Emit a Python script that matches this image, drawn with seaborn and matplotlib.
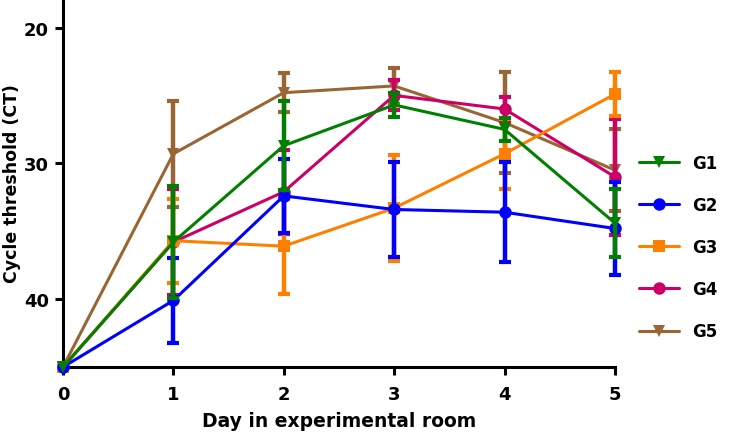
"""Cycle threshold by day in the experimental room, groups G1-G5."""

import matplotlib

matplotlib.use("Agg")
import matplotlib.pyplot as plt
import pandas as pd
import seaborn as sns

days = [0, 1, 2, 3, 4, 5]
groups = ["G1", "G2", "G3", "G4", "G5"]

# mean CT and SD per day
g1_mean = [45, 35.8, 28.7, 25.7, 27.5, 34.4]
g1_sd = [0, 4.1, 3.3, 0.9, 0.85, 2.5]
g2_mean = [45, 40.1, 32.4, 33.4, 33.6, 34.8]
g2_sd = [0, 3.15, 2.7, 3.5, 3.7, 3.4]
g3_mean = [45, 35.7, 36.1, 33.3, 29.3, 24.9]
g3_sd = [0, 3.1, 3.5, 3.9, 2.6, 1.6]
g4_mean = [45, 35.8, 32.1, 25.0, 26.0, 31.0]
g4_sd = [0, 3.9, 3.1, 1.1, 0.9, 4.3]
g5_mean = [45, 29.3, 24.8, 24.3, 27.0, 30.5]
g5_sd = [0, 3.9, 1.45, 1.3, 3.7, 3.0]

means = {"G1": g1_mean, "G2": g2_mean, "G3": g3_mean, "G4": g4_mean, "G5": g5_mean}
sds = {"G1": g1_sd, "G2": g2_sd, "G3": g3_sd, "G4": g4_sd, "G5": g5_sd}

colors = {"G1": "#008000", "G2": "#0000ff", "G3": "#ff8000",
          "G4": "#cc0066", "G5": "#996633"}
markers = {"G1": "v", "G2": "o", "G3": "s", "G4": "o", "G5": "v"}
# G1 on top, G5 at the bottom
zorders = {"G1": 10, "G2": 9, "G3": 8, "G4": 7, "G5": 6}

df = pd.DataFrame(
    [(g, d, m) for g in groups for d, m in zip(days, means[g])],
    columns=["group", "day", "ct"],
)

sns.set_style("ticks")
plt.rcParams["font.family"] = ["DejaVu Sans"]
plt.rcParams["font.weight"] = "bold"
plt.rcParams["text.color"] = "black"
plt.rcParams["axes.labelcolor"] = "black"

fig = plt.figure(figsize=(7.3, 4.39), dpi=100)
ax = fig.add_axes([0.0863, 0.1617, 0.756, 0.8383])

sns.lineplot(
    data=df, x="day", y="ct", hue="group", style="group",
    hue_order=groups, style_order=groups, palette=colors,
    markers=markers, dashes=False, linewidth=2.2, markersize=9,
    markeredgewidth=0, ax=ax, legend=True,
)

for line, g in zip(ax.lines[: len(groups)], groups):
    line.set_zorder(zorders[g])
    line.set_clip_on(False)

for g in groups:
    eb = ax.errorbar(
        days[1:], means[g][1:], yerr=sds[g][1:], fmt="none",
        ecolor=colors[g], elinewidth=3.2, capsize=4, capthick=3,
        zorder=zorders[g] - 0.5,
    )
    for art in eb.lines[1] + eb.lines[2]:
        art.set_clip_on(False)

ax.set_xlim(0, 5)
ax.set_ylim(45, 17.9)
ax.set_xticks(days)
ax.set_yticks([20, 30, 40])
ax.set_xlabel("Day in experimental room", fontsize=13.5, fontweight="bold",
              labelpad=6, color="black")
ax.set_ylabel("Cycle threshold (CT)", fontsize=12.5, fontweight="bold",
              labelpad=2, color="black")
ax.tick_params(axis="both", labelsize=13, length=6, width=2.2,
               direction="out", colors="black")
ax.tick_params(axis="x", pad=7)
ax.tick_params(axis="y", pad=4)
for lab in ax.get_xticklabels() + ax.get_yticklabels():
    lab.set_fontweight("bold")

sns.despine(ax=ax)
for side in ["left", "bottom"]:
    ax.spines[side].set_linewidth(2.2)
    ax.spines[side].set_color("black")

handles, labels = ax.get_legend_handles_labels()
leg = ax.legend(
    handles, labels, loc="center left", bbox_to_anchor=(0.875, 0.435),
    bbox_transform=fig.transFigure, frameon=False,
    handlelength=2.4, handletextpad=0.8, labelspacing=1.45,
    borderpad=0, borderaxespad=0, prop={"weight": "bold", "size": 12},
)
for txt in leg.get_texts():
    txt.set_color("black")

fig.savefig("out.png", dpi=100)
